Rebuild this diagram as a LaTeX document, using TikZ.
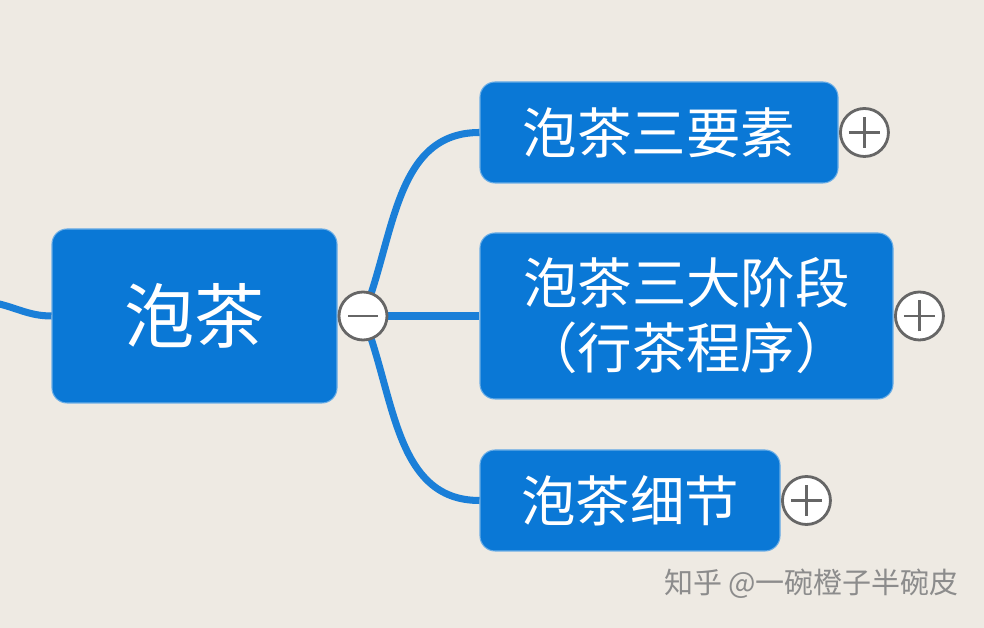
\documentclass[tikz,border=0pt]{standalone}
\usepackage{fontspec}
\usepackage{tikz}
\usetikzlibrary{positioning}
\newfontfamily\cjk{Noto Sans CJK SC}
\definecolor{fond}{HTML}{EEEAE3}
\definecolor{bleu}{HTML}{0A78D6}
\definecolor{trait}{HTML}{1A7FD8}
\tikzset{
  boite/.style={fill=bleu,draw=bleu!60,line width=0.6pt,rounded corners=0.3cm,text=white,inner sep=0pt,font=\cjk},
  branche/.style={draw=trait,line width=4pt},
  bouton/.style={circle,fill=white,draw=black!60,line width=1.6pt,minimum size=0.96cm,inner sep=0pt},
  signe/.style={draw=black!60,line width=1.4pt}
}
\begin{document}
\begin{tikzpicture}
            \useasboundingbox (0,0) rectangle (19.68,12.56);
            \clip (0,0) rectangle (19.68,12.56);
            \fill[fond] (0,0) rectangle (19.68,12.56);
            % les boites
            \node[boite,minimum width=5.7cm,minimum height=3.48cm,font=\cjk\fontsize{40}{48}\selectfont] (racine) at (3.89,6.24) {泡茶};
            \node[boite,minimum width=7.16cm,minimum height=2.02cm,font=\cjk\fontsize{31}{37}\selectfont] (elem) at (13.18,9.91) {泡茶三要素};
            \node[boite,minimum width=8.26cm,minimum height=3.32cm,align=center,font=\cjk\fontsize{31}{37}\selectfont] (etape) at (13.73,6.24) {泡茶三大阶段\\（行茶程序）};
            \node[boite,minimum width=6.0cm,minimum height=2.02cm,font=\cjk\fontsize{31}{37}\selectfont] (detail) at (12.6,2.55) {泡茶细节};
            \coordinate (entree) at (-0.1,6.5);
            \coordinate (moins) at (7.26,6.24);
            % les branches
            \draw[branche] (entree) to[out=-12,in=180] (racine.west);
            \draw[branche] (moins) to[out=68,in=180] (elem.west);
            \draw[branche] (moins) -- (etape.west);
            \draw[branche] (moins) to[out=-68,in=180] (detail.west);
            % les boutons
            \node[bouton] (bm) at (moins) {};
            \draw[signe] ([xshift=-0.3cm]bm.center) -- ([xshift=0.3cm]bm.center);
            \node[bouton,right=0.01cm of elem] (b1) {};
            \node[bouton,right=0.01cm of etape] (b2) {};
            \node[bouton,right=0.01cm of detail] (b3) {};
            \foreach \b in {b1,b2,b3}{
              \draw[signe] ([xshift=-0.31cm]\b.center) -- ([xshift=0.31cm]\b.center);
              \draw[signe] ([yshift=-0.31cm]\b.center) -- ([yshift=0.31cm]\b.center);
            }
            \node[text=black!45,font=\cjk\fontsize{16.5}{20}\selectfont] (marque) at (16.23,0.88) {知乎 @一碗橙子半碗皮};
        \end{tikzpicture}
\end{document}
